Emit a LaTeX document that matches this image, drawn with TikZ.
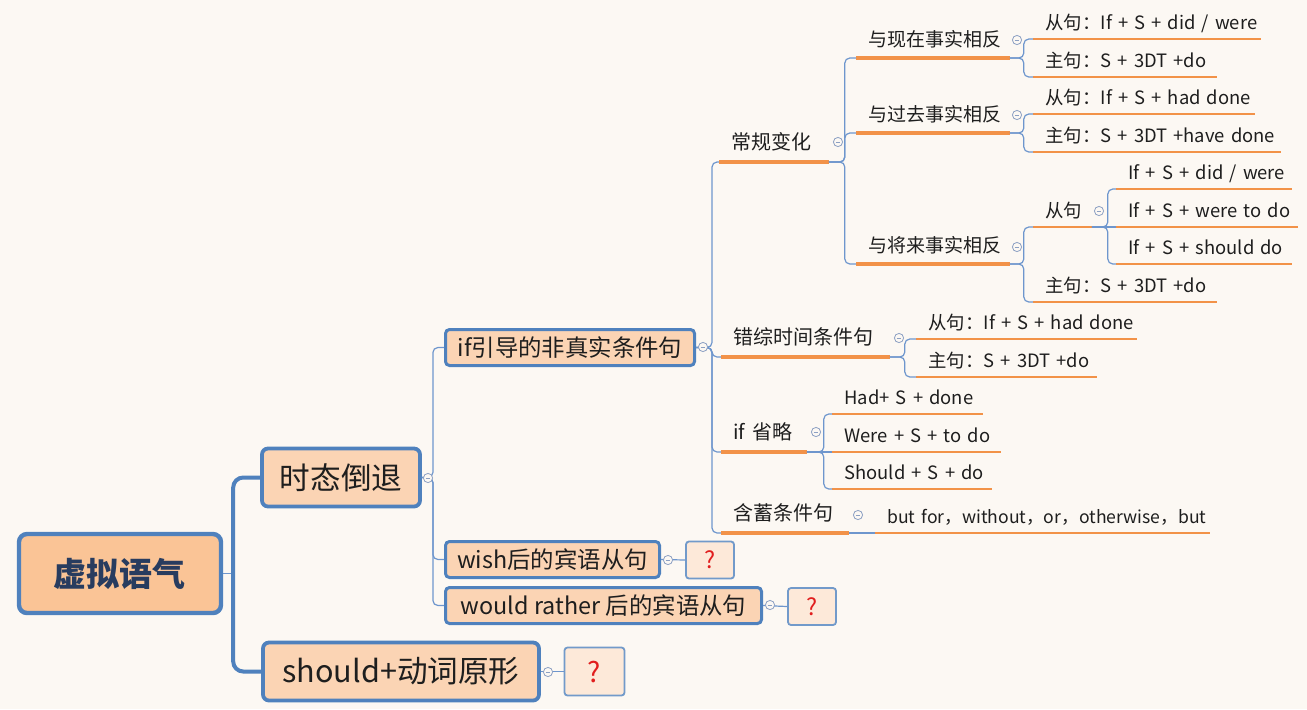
\documentclass[tikz,border=0pt]{standalone}
\usepackage{fontspec}
\setmainfont{Noto Sans CJK SC}
\usetikzlibrary{calc}

\definecolor{bgc}{RGB}{252,248,243}
\definecolor{boxblue}{RGB}{79,129,189}
\definecolor{linkblue}{RGB}{110,150,205}
\definecolor{rootfill}{RGB}{250,196,150}
\definecolor{topfill}{RGB}{251,212,180}
\definecolor{qfill}{RGB}{253,233,217}
\definecolor{uorange}{RGB}{242,146,72}
\definecolor{foldc}{RGB}{140,160,195}
\definecolor{qred}{RGB}{225,30,30}
\definecolor{txt}{RGB}{30,30,30}
\definecolor{rootc}{RGB}{40,60,95}

\begin{document}
\begin{tikzpicture}[
	x=0.5pt,y=-0.5pt,
	rootbox/.style={
		draw=boxblue,
		line width=2.2pt,
		fill=rootfill,
		rounded corners=4pt,
		minimum width=101pt,
		minimum height=39.5pt,
		text=rootc,
		font=\fontsize{16.5}{18}\selectfont\bfseries},
	mainbox/.style={draw=boxblue, line width=1.9pt, fill=topfill, rounded corners=3pt,
		minimum height=29pt, text=txt, font=\fontsize{15.3}{17}\selectfont},
	subbox/.style={draw=boxblue, line width=1.5pt, fill=topfill, rounded corners=2pt,
		minimum height=18pt, text=txt, font=\fontsize{11.7}{13}\selectfont},
	qbox/.style={draw=boxblue!80, line width=0.9pt, fill=qfill, rounded corners=1.5pt,
		text=qred, font=\fontsize{11.7}{13}\selectfont},
	topic/.style={anchor=south west, inner xsep=0pt, text depth=0pt, align=left,
		text=txt, execute at begin node=\hspace*{6pt}},
	lvthree/.style={topic, inner ysep=6pt, font=\fontsize{10}{12}\selectfont},
	lvfour/.style={topic, inner ysep=5.5pt, font=\fontsize{9.5}{11}\selectfont},
	leaf/.style={topic, inner ysep=4.5pt, font=\fontsize{9.2}{11}\selectfont},
	uline/.style={draw=uorange, line width=1.4pt},
	trunk/.style={draw=boxblue, line width=2pt, rounded corners=5pt},
	link/.style={draw=linkblue, line width=0.6pt, rounded corners=2.5pt},
	fold/.style={circle, draw=foldc, line width=0.4pt, fill=bgc, inner sep=0pt,
		minimum size=4.6pt,
		path picture={\draw[foldc, line width=0.4pt]
			([xshift=-1.2pt]path picture bounding box.center) --
			([xshift=1.2pt]path picture bounding box.center);}}
	]
	\useasboundingbox (0,0) rectangle (1307,709);
	\fill[bgc] (0,0) rectangle (1307,709);

	% boxes
	\node[rootbox] (root) at (120,573.5) {虚拟语气};
	\node[mainbox, minimum width=79pt] (shtd) at (341,477.5) {时态倒退};
	\node[mainbox, minimum width=138pt] (shd) at (401,671.5) {should+动词原形};
	\node[subbox, minimum width=124.5pt] (ifc) at (570,347.5) {if引导的非真实条件句};
	\node[subbox, minimum width=107pt] (wish) at (552.5,559.5) {wish后的宾语从句};
	\node[subbox, minimum width=158pt] (would) at (603.5,605.5) {would rather 后的宾语从句};
	\node[qbox, minimum width=24pt, minimum height=18.5pt] (qwish) at (710,560) {?};
	\node[qbox, minimum width=24pt, minimum height=18.5pt] (qwould) at (812,606.5) {?};
	\node[qbox, minimum width=30pt, minimum height=24pt,
		font=\fontsize{14}{16}\selectfont] (qshd) at (594.5,671.5) {?};

	% underlined topics
	\node[lvthree, text width=54.5pt] (cg) at (719,162) {常规变化};
	\node[lvthree, text width=84pt] (cz) at (721,357) {错综时间条件句};
	\node[lvthree, text width=42.5pt] (sl) at (721,452) {if 省略};
	\node[lvthree, text width=63.5pt] (hx) at (721,533) {含蓄条件句};

	\node[lvfour, text width=76.5pt] (xz) at (856,58) {与现在事实相反};
	\node[lvfour, text width=76.5pt] (gq) at (856,133) {与过去事实相反};
	\node[lvfour, text width=76.5pt] (jl) at (856,264) {与将来事实相反};

	\node[leaf, text width=113.5pt] (xz1) at (1033,39) {从句：If + S + did / were};
	\node[leaf, text width=91.5pt] (xz2) at (1033,77) {主句：S + 3DT +do};
	\node[leaf, text width=110.5pt] (gq1) at (1033,114) {从句：If + S + had done};
	\node[leaf, text width=123.5pt] (gq2) at (1033,152) {主句：S + 3DT +have done};
	\node[leaf, text width=29pt] (jl1) at (1033,227) {从句};
	\node[leaf, text width=91.5pt] (jl2) at (1033,302) {主句：S + 3DT +do};
	\node[leaf, text width=87.5pt] (jl11) at (1116,189) {If + S + did / were};
	\node[leaf, text width=90.5pt] (jl12) at (1116,227) {If + S + were to do};
	\node[leaf, text width=87.5pt] (jl13) at (1116,264) {If + S + should do};
	\node[leaf, text width=110pt] (cz1) at (916,339) {从句：If + S + had done};
	\node[leaf, text width=90pt] (cz2) at (916,377) {主句：S + 3DT +do};
	\node[leaf, text width=75pt] (sl1) at (832,414) {Had+ S + done};
	\node[leaf, text width=84pt] (sl2) at (832,452) {Were + S + to do};
	\node[leaf, text width=79.5pt] (sl3) at (832,489) {Should + S + do};
	\node[leaf, text width=167pt, font=\fontsize{8.8}{11}\selectfont] (hx1) at (875,533)
		{but~for，without，or，otherwise，but};

	% underlines
	\foreach \n in {cg,cz,sl,hx}
		\draw[uline, line width=2pt] (\n.south west) -- (\n.south east);
	\foreach \n in {xz,gq,jl}
		\draw[uline, line width=1.65pt] (\n.south west) -- (\n.south east);
	\foreach \n in {xz1,xz2,gq1,gq2,jl1,jl2,jl11,jl12,jl13,cz1,cz2,sl1,sl2,sl3,hx1}
		\draw[uline] (\n.south west) -- (\n.south east);

	% connectors
	\coordinate (rj) at ($(root.east)+(10,0)$);
	\draw[link] (root.east) -- (rj);
	\draw[trunk] (shtd.west) -| (rj) |- (shd.west);

	\foreach \a/\b/\d in {% from/to/elbow
		shtd.east/ifc.west/11,
		shtd.east/wish.west/11,
		shtd.east/would.west/11,
		ifc.east/cg.south west/16,
		ifc.east/cz.south west/16,
		ifc.east/sl.south west/16,
		ifc.east/hx.south west/16,
		cg.south east/xz.south west/16,
		cg.south east/gq.south west/16,
		cg.south east/jl.south west/16,
		xz.south east/xz1.south west/14,
		xz.south east/xz2.south west/14,
		gq.south east/gq1.south west/14,
		gq.south east/gq2.south west/14,
		jl.south east/jl1.south west/14,
		jl.south east/jl2.south west/14,
		jl1.south east/jl11.south west/16,
		jl1.south east/jl13.south west/16,
		cz.south east/cz1.south west/15,
		cz.south east/cz2.south west/15,
		sl.south east/sl1.south west/17,
		sl.south east/sl3.south west/17}
		\draw[link] (\a) -- ++(\d,0) |- (\b);

	\foreach \a/\b in {jl1.south east/jl12.south west, sl.south east/sl2.south west,
		hx.south east/hx1.south west, wish.east/qwish.west, would.east/qwould.west,
		shd.east/qshd.west}
		\draw[link] (\a) -- (\b);

	% fold markers
	\foreach \n/\p in {shtd/{428,478}, ifc/{703,347}, wish/{668,560}, would/{770,605},
		shd/{548,672}, cg/{838,142}, xz/{1017,40}, gq/{1017,115}, jl/{1017,247},
		jl1/{1099,211}, cz/{899,338}, sl/{816,432}, hx/{858,515}}
		\node[fold] (f\n) at (\p) {};
\end{tikzpicture}
\end{document}
